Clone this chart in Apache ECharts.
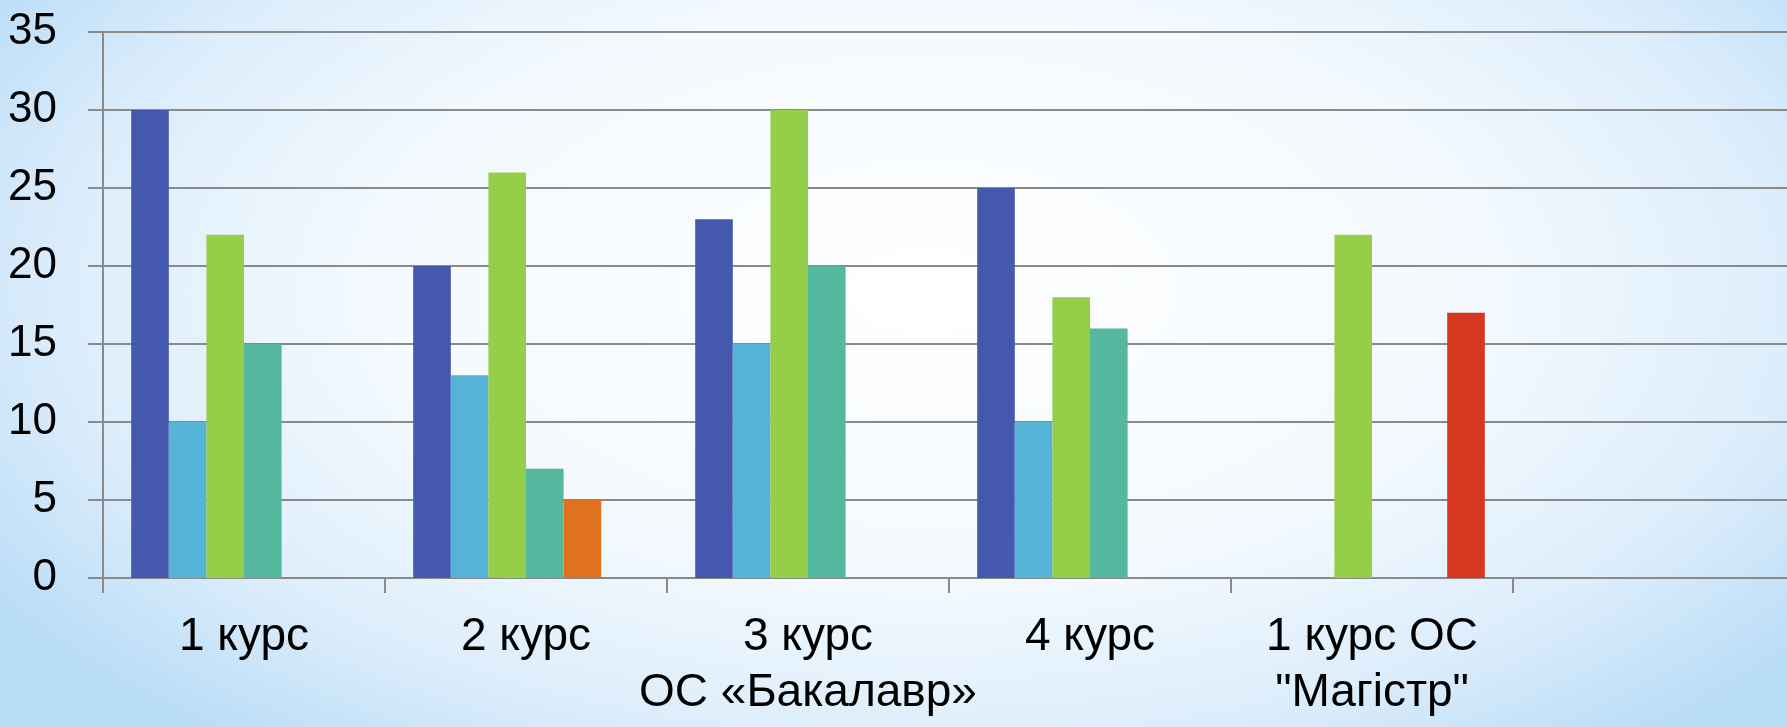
<!DOCTYPE html>
<html>
<head>
<meta charset="utf-8">
<script src="https://cdn.jsdelivr.net/npm/echarts@6/dist/echarts.min.js"></script>
<style>
  html, body {
    margin: 0;
    padding: 0;
  }
  body {
    width: 1787px;
    height: 727px;
    background: radial-gradient(ellipse 62% 80% at 52% 40%, #ffffff 0%, #f3f9fe 50%, #dcedfb 78%, #b9dcf7 100%);
  }
  #chart {
    width: 1787px;
    height: 727px;
  }
</style>
</head>
<body>
<div id="chart"></div>
<script>
// категорії (остання порожня)
var categories = ["1 курс", "2 курс", "3 курс\nОС «Бакалавр»", "4 курс", "1 курс ОС\n\"Магістр\"", ""];
var yTicks = [0, 5, 10, 15, 20, 25, 30, 35];

var s1 = [30, 20, 23, 25, null, null];
var s2 = [10, 13, 15, 10, null, null];
var s3 = [22, 26, 30, 18, 22, null];
var s4 = [15, 7, 20, 16, null, null];
var s5 = [null, 5, null, null, null, null];
var s6 = [null, null, null, null, 17, null];

var colors = ["#4459ae", "#54b3d7", "#95cf4a", "#53b89e", "#e0721f", "#d5381f"];
var gridColor = "#8a8a8a";

var myChart = echarts.init(document.getElementById("chart"));
var series = [s1, s2, s3, s4, s5, s6].map(function(d, i) {
  return {
    name: "s" + (i + 1),
    type: "bar",
    data: d,
    barGap: "0%",
    barCategoryGap: "20%",
    itemStyle: { color: colors[i] }
  };
});

myChart.setOption({
  animation: false,
  backgroundColor: "transparent",
  grid: {
    left: 103,
    right: -8,
    top: 32,
    bottom: 149,
    outerBoundsMode: "none",
    containLabel: false
  },
  xAxis: {
    type: "category",
    data: categories,
    axisLine: { lineStyle: { color: gridColor, width: 2 } },
    axisTick: { show: true, length: 15, lineStyle: { color: gridColor, width: 2 } },
    axisLabel: {
      interval: 0,
      margin: 31,
      color: "#000",
      fontFamily: "Liberation Sans",
      fontSize: 46,
      lineHeight: 56
    }
  },
  yAxis: {
    type: "value",
    min: yTicks[0],
    max: yTicks[yTicks.length - 1],
    interval: 5,
    axisLine: { show: true, lineStyle: { color: gridColor, width: 2 } },
    axisTick: { show: true, length: 15, lineStyle: { color: gridColor, width: 2 } },
    splitLine: { lineStyle: { color: gridColor, width: 2 } },
    axisLabel: {
      margin: 46,
      color: "#000",
      fontFamily: "Liberation Sans",
      fontSize: 44
    }
  },
  series: series
});
</script>
</body>
</html>
